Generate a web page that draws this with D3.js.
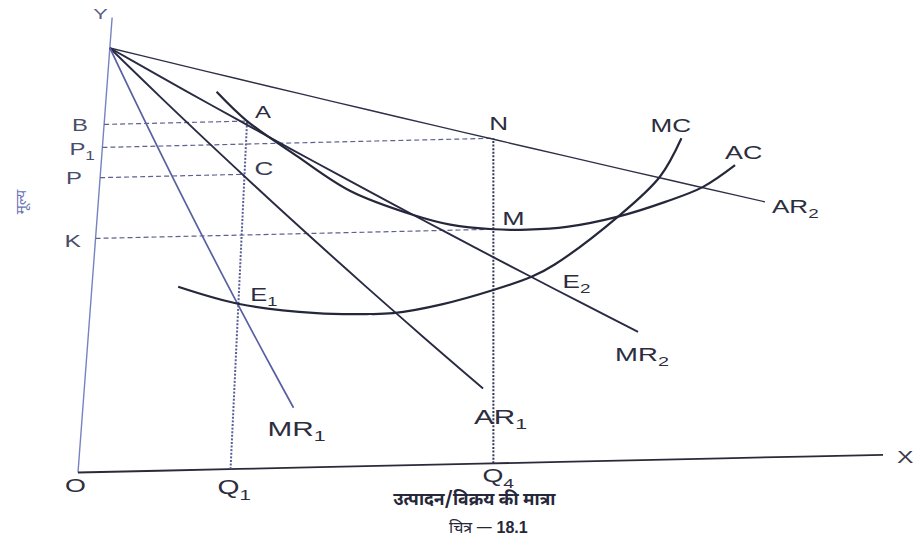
<!DOCTYPE html>
<html><head><meta charset="utf-8">
<script src="https://cdn.jsdelivr.net/npm/d3@7"></script>
<style>html,body{margin:0;padding:0;background:#fff;} svg{display:block;}</style>
</head><body>
<svg id="chart" width="919" height="560"></svg>
<script>
// ---------- data (price/quantity in 0-100 units) ----------
const apexPrice = 93.3;                       // common intercept of AR/MR lines
const demandNames = ["AR2", "MR2", "AR1", "MR1"];
const demandEndX  = [86.97, 70.0, 50.3, 26.5];
const demandEndY  = [56.1, 28.2, 16.5, 13.2];

const acX = [14.7, 18.95, 25.7, 32.9, 41.2, 46.0, 51.6, 56.0, 61.1, 67.8, 74.0, 79.0, 83.3];
const acY = [83.1, 76.5, 68.6, 60.6, 55.0, 52.7, 51.45, 51.2, 51.6, 53.6, 56.6, 59.7, 64.3];

const mcX = [11.1, 19.07, 29.0, 35.4, 38.8, 45.0, 51.6, 56.5, 59.5, 67.8, 73.4, 76.4];
const mcY = [40.4, 36.3, 33.9, 33.45, 33.5, 35.2, 38.1, 40.8, 43.4, 53.6, 62.15, 70.5];

const outputNames  = ["Q1", "Q4"];
const outputValues = [18.95, 51.6];
const priceNames   = ["B", "P1", "P", "K"];
const priceValues  = [76.5, 71.45, 64.8, 51.45];
const priceOutputIndex = [0, 1, 0, 1];        // dashed guide runs to Q1 or Q4
const verticalTopIndex = [0, 1];              // Q1 up to B level (A), Q4 up to P1 level (N)

// ---------- scales + photo-like projection ----------
const svg = d3.select("#chart");
const x = d3.scaleLinear().domain([0, 100]).range([0, 805]);
const y = d3.scaleLinear().domain([0, 100]).range([0, 455]);
function proj(xd, yd) {
  const u = x(xd), v = y(yd);
  return [78 + u + 0.075 * v * (1 - u / 415), 472.5 - 0.022 * u - v];
}
const line = d3.line().x(d => proj(d[0], d[1])[0]).y(d => proj(d[0], d[1])[1]);
const curve = d3.line().curve(d3.curveCatmullRom.alpha(0.5))
  .x(d => proj(d[0], d[1])[0]).y(d => proj(d[0], d[1])[1]);

function seg(p, q, n) { // sampled straight segment (keeps projection smooth)
  return d3.range(n + 1).map(i => [p[0] + (q[0] - p[0]) * i / n, p[1] + (q[1] - p[1]) * i / n]);
}

const g = svg.append("g");

// axes
g.append("path").attr("d", line(seg([0, 0], [0, 100], 10)))
  .attr("fill", "none").attr("stroke", "#7682c2").attr("stroke-width", 1.4);
g.append("path").attr("d", line(seg([0, 0], [100, 0], 10)))
  .attr("fill", "none").attr("stroke", "#2a2b3a").attr("stroke-width", 1.8);

// dashed price guides
priceValues.forEach((pv, i) => {
  g.append("path").attr("d", line(seg([0, pv], [outputValues[priceOutputIndex[i]], pv], 10)))
    .attr("fill", "none").attr("stroke", "#5d6290").attr("stroke-width", 1.2)
    .attr("stroke-dasharray", "5 3");
});
// dotted quantity guides
outputValues.forEach((qv, i) => {
  g.append("path").attr("d", line(seg([qv, 0], [qv, priceValues[verticalTopIndex[i]]], 10)))
    .attr("fill", "none").attr("stroke", i === 0 ? "#5a5f98" : "#34375e")
    .attr("stroke-width", 2).attr("stroke-dasharray", "2 1.6");
});

// AR / MR lines from common intercept
const demandStyle = {
  AR2: ["#2e3048", 1.4], MR2: ["#292b44", 1.9], AR1: ["#292b44", 1.9], MR1: ["#5860a2", 1.7]
};
demandNames.forEach((nm, i) => {
  g.append("path").attr("d", line(seg([0, apexPrice], [demandEndX[i], demandEndY[i]], 20)))
    .attr("fill", "none").attr("stroke", demandStyle[nm][0]).attr("stroke-width", demandStyle[nm][1]);
});

// cost curves
g.append("path").attr("d", curve(acX.map((v, i) => [v, acY[i]])))
  .attr("fill", "none").attr("stroke", "#25273a").attr("stroke-width", 2.2);
g.append("path").attr("d", curve(mcX.map((v, i) => [v, mcY[i]])))
  .attr("fill", "none").attr("stroke", "#25273a").attr("stroke-width", 2.2);

// ---------- labels ----------
const FONT = "'Liberation Sans', Arial, sans-serif";
function label(main, sub, anchor, dx, dy, size, color) {
  const p = proj(anchor[0], anchor[1]);
  const t = svg.append("text")
    .attr("transform", `translate(${p[0] + dx},${p[1] + dy}) scale(1.45,1)`)
    .attr("font-family", FONT).attr("font-size", size).attr("fill", color || "#2c2d3e");
  t.append("tspan").text(main);
  if (sub) t.append("tspan").attr("font-size", size * 0.72).attr("dy", size * 0.28).text(sub);
}
const iQ1 = 0, iQ4 = 1;
const A  = [outputValues[iQ1], priceValues[0]];
const N  = [outputValues[iQ4], priceValues[1]];
const C  = [outputValues[iQ1], priceValues[2]];
const M  = [outputValues[iQ4], priceValues[3]];
const E1 = [mcX[1], mcY[1]];
const E2 = [mcX[7], mcY[7]];

label("Y", null, [0, 100], -19, 1, 15, "#5c6080");
label("B", null, [0, priceValues[0]], -32, 7, 16.5, "#4a4d6a");
label("P", "1", [0, priceValues[1]], -33, 8, 16.5, "#4a4d6a");
label("P", null, [0, priceValues[2]], -34, 6, 16.5, "#4a4d6a");
label("K", null, [0, priceValues[3]], -31, 9, 17, "#4a4d6a");
label("A", null, A, 8, -3, 16.5);
label("C", null, C, 10, 1, 18, "#3a3c55");
label("N", null, N, -4, -8, 18);
label("M", null, M, 9, -4, 18.5);
label("MC", null, [mcX[mcX.length - 1], mcY[mcY.length - 1]], -31, -6.5, 18);
label("AC", null, [acX[acX.length - 1], acY[acY.length - 1]], -10, -6, 18.5);
label("AR", "2", [demandEndX[0], demandEndY[0]], 7, 11, 18);
label("E", "2", E2, 31, 11, 18);
label("MR", "2", [demandEndX[1], demandEndY[1]], -23, 29, 19);
label("E", "1", E1, 11, -3, 17.5);
label("MR", "1", [demandEndX[3], demandEndY[3]], -26, 28, 20.5);
label("AR", "1", [demandEndX[2], demandEndY[2]], -9, 35, 20.5);
label("Q", "1", [outputValues[0], 0], -13, 25, 19.5);
label("Q", "4", [outputValues[1], 0], -11, 19, 18.5);
label("O", null, [0, 0], -13, 19.5, 18.5);
label("X", null, [100, 0], 14, 8, 17, "#3a3b4a");

// vertical price label (Hindi)
svg.append("text")
  .attr("transform", "translate(26,202) rotate(-90)")
  .attr("text-anchor", "middle").attr("font-size", 15).attr("fill", "#6a73b5")
  .attr("font-family", "'Noto Sans Devanagari','Noto Sans',sans-serif")
  .text("मूल्य");

// x-axis title + caption
const xMid = (proj(outputValues[1], 0)[0]);
svg.append("text")
  .attr("x", xMid - 19).attr("y", 505).attr("text-anchor", "middle")
  .attr("font-size", 17.5).attr("font-weight", 700).attr("fill", "#26273a")
  .attr("font-family", "'Noto Sans Devanagari','Noto Sans',sans-serif")
  .text("उत्पादन/विक्रय की मात्रा");
const cap = svg.append("text")
  .attr("x", xMid - 5).attr("y", 533).attr("text-anchor", "middle")
  .attr("font-size", 16).attr("fill", "#26273a")
  .attr("font-family", "'Noto Sans Devanagari','Noto Sans',sans-serif");
cap.append("tspan").text("चित्र — ");
cap.append("tspan").attr("font-weight", 700).attr("font-family", FONT).text("18.1");
</script>
</body></html>
